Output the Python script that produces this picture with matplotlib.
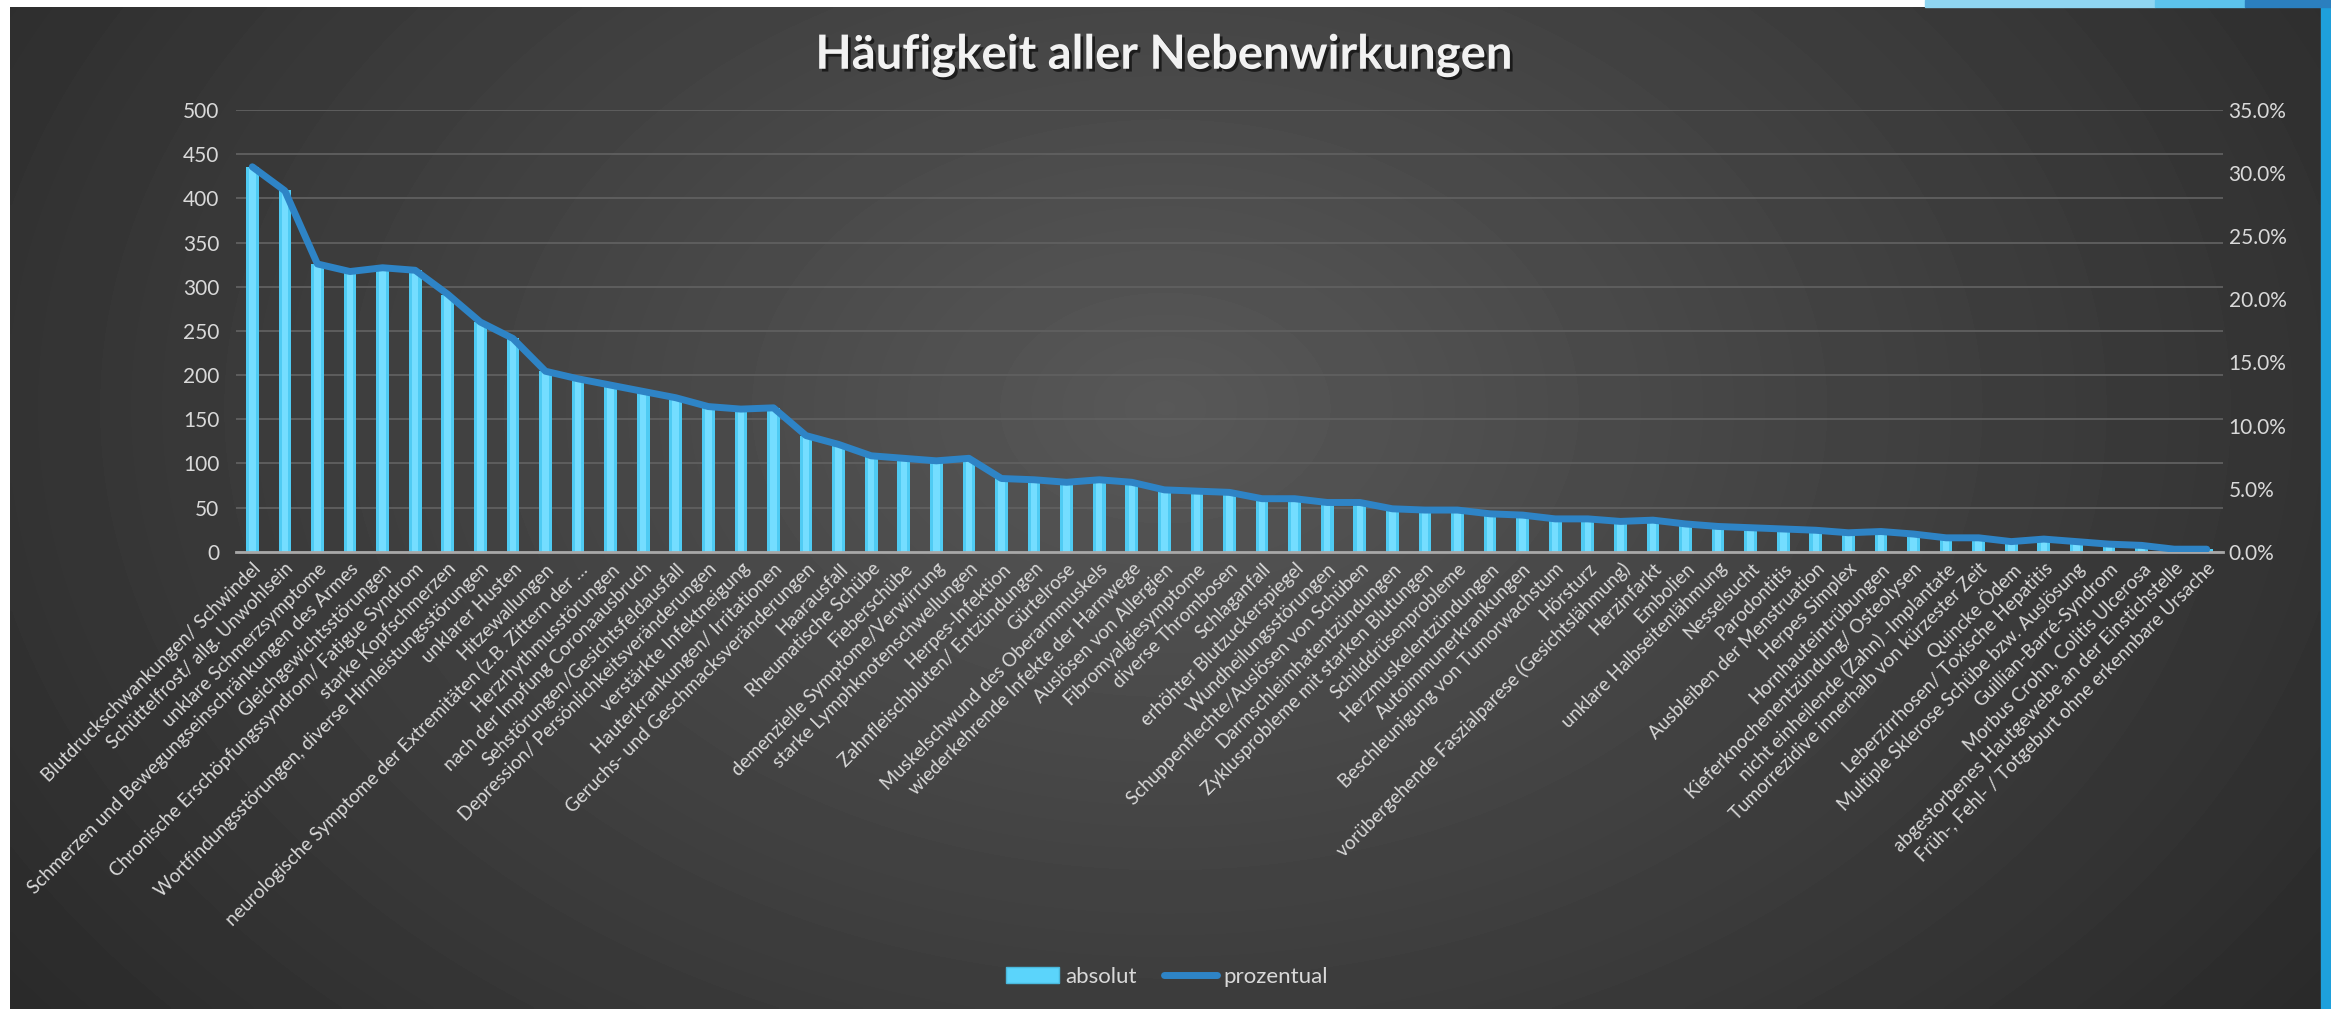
import matplotlib.pyplot as plt
import numpy as np
from matplotlib.patches import Rectangle, Patch
from matplotlib.lines import Line2D
import matplotlib.patheffects as pe

plt.rcParams['font.family'] = ['Lato', 'DejaVu Sans']

# Daten
kategorien = [
    "Blutdruckschwankungen/ Schwindel",
    "Schüttelfrost/ allg. Unwohlsein",
    "unklare Schmerzsymptome",
    "Schmerzen und Bewegungseinschränkungen des Armes",
    "Gleichgewichtsstörungen",
    "Chronische Erschöpfungssyndrom/ Fatigue Syndrom",
    "starke Kopfschmerzen",
    "Wortfindungsstörungen, diverse Hirnleistungsstörungen",
    "unklarer Husten",
    "Hitzewallungen",
    "neurologische Symptome der Extremitäten (z.B. Zittern der …",
    "Herzrhythmusstörungen",
    "nach der Impfung Coronaausbruch",
    "Sehstörungen/Gesichtsfeldausfall",
    "Depression/ Persönlichkeitsveränderungen",
    "verstärkte Infektneigung",
    "Hauterkrankungen/ Irritationen",
    "Geruchs- und Geschmacksveränderungen",
    "Haarausfall",
    "Rheumatische Schübe",
    "Fieberschübe",
    "demenzielle Symptome/Verwirrung",
    "starke Lymphknotenschwellungen",
    "Herpes-Infektion",
    "Zahnfleischbluten/ Entzündungen",
    "Gürtelrose",
    "Muskelschwund des Oberarmmuskels",
    "wiederkehrende Infekte der Harnwege",
    "Auslösen von Allergien",
    "Fibromyalgiesymptome",
    "diverse Thrombosen",
    "Schlaganfall",
    "erhöhter Blutzuckerspiegel",
    "Wundheilungsstörungen",
    "Schuppenflechte/Auslösen von Schüben",
    "Darmschleimhatentzündungen",
    "Zyklusprobleme mit starken Blutungen",
    "Schilddrüsenprobleme",
    "Herzmuskelentzündungen",
    "Autoimmunerkrankungen",
    "Beschleunigung von Tumorwachstum",
    "Hörsturz",
    "vorübergehende Faszialparese (Gesichtslähmung)",
    "Herzinfarkt",
    "Embolien",
    "unklare Halbseitenlähmung",
    "Nesselsucht",
    "Parodontitis",
    "Ausbleiben der Menstruation",
    "Herpes Simplex",
    "Hornhauteintrübungen",
    "Kieferknochenentzündung/ Osteolysen",
    "nicht einheilende (Zahn) -Implantate",
    "Tumorrezidive innerhalb von kürzester Zeit",
    "Quincke Ödem",
    "Leberzirrhosen/ Toxische Hepatitis",
    "Multiple Sklerose Schübe bzw. Auslösung",
    "Guillian-Barré-Syndrom",
    "Morbus Crohn, Colitis Ulcerosa",
    "abgestorbenes Hautgewebe an der Einstichstelle",
    "Früh-, Fehl- / Totgeburt ohne erkennbare Ursache",
]

absolut = [436, 409, 326, 317, 321, 319, 291, 260, 242, 204,
           196, 188, 182, 174, 164, 161, 163, 131, 122, 109,
           105, 103, 105, 83, 82, 78, 81, 78, 70, 69,
           67, 60, 60, 56, 55, 49, 47, 47, 43, 41,
           37, 37, 34, 35, 32, 29, 27, 26, 24, 21,
           23, 20, 16, 16, 12, 14, 12, 9, 7, 3, 3]

prozentual = [30.5, 28.6, 22.8, 22.2, 22.5, 22.3, 20.4, 18.2, 16.9, 14.3,
              13.7, 13.2, 12.7, 12.2, 11.5, 11.3, 11.4, 9.2, 8.5, 7.6,
              7.4, 7.2, 7.4, 5.8, 5.7, 5.5, 5.7, 5.5, 4.9, 4.8,
              4.7, 4.2, 4.2, 3.9, 3.9, 3.4, 3.3, 3.3, 3.0, 2.9,
              2.6, 2.6, 2.4, 2.5, 2.2, 2.0, 1.9, 1.8, 1.7, 1.5,
              1.6, 1.4, 1.1, 1.1, 0.8, 1.0, 0.8, 0.6, 0.5, 0.2, 0.2]

links_ticks = [0, 50, 100, 150, 200, 250, 300, 350, 400, 450, 500]
rechts_ticks = [0, 5, 10, 15, 20, 25, 30, 35]

W, H = 2331, 1009
fig = plt.figure(figsize=(W / 100, H / 100), dpi=100)
fig.patch.set_facecolor("white")

# dunkler Hintergrund mit Verlauf
bg = fig.add_axes([10 / W, 0, (2321 - 10) / W, 1 - 7 / H])
yy, xx = np.mgrid[0:1:300j, 0:1:600j]
r = np.sqrt(((xx - 0.5) / 0.62) ** 2 + ((yy - 0.6) / 1.0) ** 2)
shade = 0.345 - 0.18 * np.clip(r, 0, 1)
bg.imshow(shade, cmap="gray", vmin=0, vmax=1, extent=[0, 1, 0, 1],
          aspect="auto", origin="lower", interpolation="bilinear")
bg.axis("off")

# Folien-Deko rechts/oben
fig.patches.append(Rectangle((2321 / W, 0), 10 / W, 1, transform=fig.transFigure,
                             color="#1ea0dc", zorder=0))
fig.patches.append(Rectangle((1925 / W, 1 - 7 / H), 230 / W, 7 / H, transform=fig.transFigure,
                             color="#8fd6f2", zorder=0))
fig.patches.append(Rectangle((2155 / W, 1 - 7 / H), 90 / W, 7 / H, transform=fig.transFigure,
                             color="#5cc3ec", zorder=0))
fig.patches.append(Rectangle((2245 / W, 1 - 7 / H), 86 / W, 7 / H, transform=fig.transFigure,
                             color="#2b7fbf", zorder=0))

textfarbe = "#d9d9d9"
x = np.arange(len(kategorien))

ax = fig.add_axes([236 / W, 1 - 551.7 / H, (2223 - 236) / W, (551.7 - 110) / H])
ax.set_facecolor("none")
ax.bar(x, absolut, width=0.39, color="#4fcbf3", zorder=2)
ax.bar(x, absolut, width=0.2, color="#74ddff", zorder=2)
ax.set_xlim(-0.5, len(kategorien) - 0.5)
ax.set_ylim(0, 500)
ax.set_yticks(links_ticks)
ax.yaxis.grid(True, color="#606060", linewidth=1.3)
ax.set_axisbelow(True)
for s in ["top", "left", "right"]:
    ax.spines[s].set_visible(False)
ax.spines["bottom"].set_color("#a8a8a8")
ax.spines["bottom"].set_linewidth(2)
ax.tick_params(axis="y", length=0, pad=12, labelsize=15, labelcolor=textfarbe)
ax.tick_params(axis="x", length=0, pad=6)
ax.set_xticks(x)
ax.set_xticklabels(kategorien, rotation=45, ha="right", va="top",
                   rotation_mode="anchor", fontsize=13.5, color=textfarbe)

ax2 = ax.twinx()
ax2.plot(x, prozentual, color="#2e84c6", linewidth=5,
         solid_joinstyle="round", solid_capstyle="round", zorder=3)
ax2.set_ylim(0, 35)
ax2.set_yticks(rechts_ticks)
ax2.set_yticklabels([f"{v:.1f}%" for v in rechts_ticks])
for s in ax2.spines.values():
    s.set_visible(False)
ax2.tick_params(axis="y", length=0, pad=4, labelsize=15, labelcolor=textfarbe)

fig.text(1164 / W, 1 - 55 / H, "Häufigkeit aller Nebenwirkungen", ha="center", va="center",
         fontsize=34, fontweight="bold", color="#f2f2f2",
         path_effects=[pe.withSimplePatchShadow(offset=(2, -2), shadow_rgbFace="black", alpha=0.6)])

handles = [Patch(facecolor="#5bd4fb", edgecolor="#4ab8dc"),
           Line2D([0], [0], color="#2e84c6", linewidth=5, solid_capstyle="round")]
fig.legend(handles, ["absolut", "prozentual"], loc="center",
           bbox_to_anchor=(1167 / W, 1 - 977 / H), ncol=2, frameon=False,
           fontsize=16, labelcolor=textfarbe, handlelength=2.4,
           handletextpad=0.3, columnspacing=1.2)

fig.savefig("out.png", dpi=100)
